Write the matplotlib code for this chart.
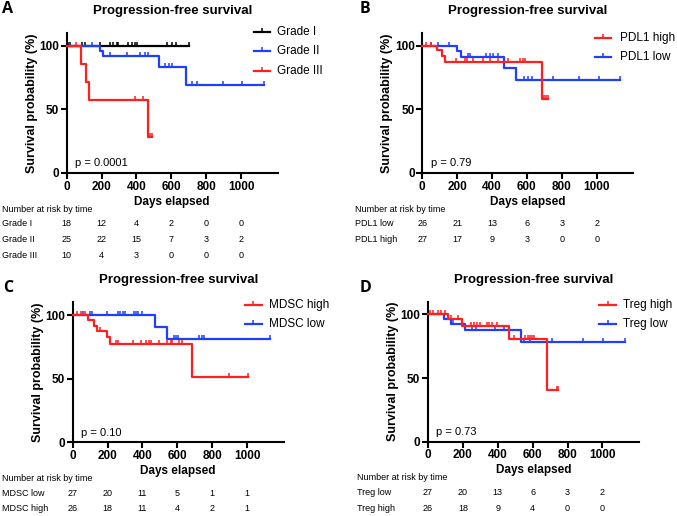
import numpy as np
import matplotlib.pyplot as plt
from matplotlib.lines import Line2D

plt.rcParams['font.family'] = ['Liberation Sans', 'DejaVu Sans']

RED = '#ff1f1f'
BLUE = '#1f3fff'
BLACK = '#000000'

# ---- data (days, survival %) ----
# panel A
grade1_events, grade1_surv, grade1_end = [], [], 699
grade1_cens = [10, 19, 86, 105, 191, 249, 268, 287, 297, 354, 374, 393, 402, 575, 603, 625, 699]
grade2_events = [191, 211, 532, 684]
grade2_surv = [95.8, 91.7, 83.3, 69.4]
grade2_end = 1130
grade2_cens = [144, 249, 345, 421, 451, 469, 565, 584, 603, 718, 747, 894, 1006, 1130]
grade3_events = [82, 113, 130, 469]
grade3_surv = [85.7, 71.4, 57.1, 28.6]
grade3_end = 488
grade3_cens = [53, 393, 437, 480, 488]

# panel B
pdl1_high_events = [86, 111, 128, 685]
pdl1_high_surv = [96.3, 92.3, 87.2, 58.1]
pdl1_high_end = 722
pdl1_high_cens = [23, 52, 195, 243, 258, 290, 347, 391, 433, 491, 558, 577, 590, 700, 710, 722]
pdl1_low_events = [200, 220, 468, 535]
pdl1_low_surv = [95.5, 90.9, 82.6, 73.4]
pdl1_low_end = 1133
pdl1_low_cens = [52, 90, 151, 262, 271, 366, 386, 405, 433, 582, 605, 630, 752, 897, 1011, 1133]

# panel C
mdsc_high_events = [89, 121, 137, 199, 216, 683]
mdsc_high_surv = [96.0, 91.5, 87.3, 82.6, 77.5, 51.7]
mdsc_high_end = 1006
mdsc_high_cens = [26, 49, 68, 154, 248, 258, 343, 391, 419, 439, 448, 495, 543, 562, 571, 609, 628, 894, 1006]
mdsc_low_events = [470, 539]
mdsc_low_surv = [90.9, 80.8]
mdsc_low_end = 1131
mdsc_low_cens = [59, 97, 110, 197, 262, 273, 287, 300, 349, 362, 376, 400, 581, 590, 604, 723, 742, 752, 1131]

# panel D
treg_high_events = [114, 194, 467, 682]
treg_high_surv = [96.2, 90.9, 80.8, 40.4]
treg_high_end = 747
treg_high_cens = [10, 29, 57, 76, 95, 133, 171, 244, 263, 282, 301, 339, 349, 367, 398, 491, 558,
                  571, 583, 596, 606, 740, 747]
treg_low_events = [91, 133, 210, 535]
treg_low_surv = [96.3, 92.6, 87.5, 78.7]
treg_low_end = 1130
treg_low_cens = [145, 253, 273, 387, 434, 549, 587, 710, 891, 1005, 1130]

risk_days = [0, 200, 400, 600, 800, 1000]
risk_A = {'Grade I': [18, 12, 4, 2, 0, 0], 'Grade II': [25, 22, 15, 7, 3, 2], 'Grade III': [10, 4, 3, 0, 0, 0]}
risk_B = {'PDL1 low': [26, 21, 13, 6, 3, 2], 'PDL1 high': [27, 17, 9, 3, 0, 0]}
risk_C = {'MDSC low': [27, 20, 11, 5, 1, 1], 'MDSC high': [26, 18, 11, 4, 2, 1]}
risk_D = {'Treg low': [27, 20, 13, 6, 3, 2], 'Treg high': [26, 18, 9, 4, 0, 0]}

W, H = 677, 516
fig = plt.figure(figsize=(W / 100, H / 100), dpi=100)


def fx(px):
    return px / W


def fy(py):
    return 1 - py / H


TICK = [(0, 0), (0, 1)]


def km(ax, events, surv, end, cens, color):
    x = [0] + events + [end]
    y = [100] + surv + [surv[-1] if surv else 100]
    ax.step(x, y, where='post', color=color, lw=1.6, clip_on=False, zorder=3)
    vals = np.array([100] + surv)
    idx = np.searchsorted(events, cens, side='right')
    ax.plot(cens, vals[idx], ls='none', marker=TICK, ms=6, mew=1.1, color=color,
            clip_on=False, zorder=3)


def panel(left, bottom, letter, letter_xy, pval, curves, legend, risk, risk_x):
    ax = fig.add_axes([fx(left), fy(bottom), 211 / W, 140 / H])
    for c in curves:
        km(ax, *c)
    ax.set_xlim(0, 1210)
    ax.set_ylim(0, 110)
    ax.set_xticks(risk_days)
    ax.set_yticks([0, 50, 100])
    for s in ['top', 'right']:
        ax.spines[s].set_visible(False)
    for s in ['left', 'bottom']:
        ax.spines[s].set_linewidth(1.5)
    ax.tick_params(width=1.5, length=4, labelsize=8.5, pad=1.5)
    for lbl in ax.get_xticklabels() + ax.get_yticklabels():
        lbl.set_fontweight('bold')
    ax.set_xlabel('Days elapsed', fontsize=8.5, fontweight='bold', va='center')
    ax.xaxis.set_label_coords(0.5, -28.7 / 140)
    ax.set_ylabel('Survival probability (%)', fontsize=9, fontweight='bold', va='center')
    ax.yaxis.set_label_coords(-35 / 211, 0.5)
    ax.text(0.5, 1 + 22 / 140, 'Progression-free survival', transform=ax.transAxes,
            ha='center', va='center', fontsize=9.5, fontweight='bold')
    ax.text(48, 7.5, pval, fontsize=8, va='center')
    fig.text(fx(letter_xy[0]), fy(letter_xy[1]), letter, fontsize=11.5, fontweight='bold',
             family='Open Sans', ha='center', va='center')

    # legend
    lx0, lx1, tx, rows = legend
    for (label, color), ry in zip([(c[0], c[1]) for c in legend_items[letter]], rows):
        fig.add_artist(Line2D([fx(lx0), fx(lx1)], [fy(ry), fy(ry)], color=color, lw=1.6))
        fig.add_artist(Line2D([fx((lx0 + lx1) / 2)], [fy(ry)], marker=TICK, ms=6, mew=1.1,
                              color=color, ls='none'))
        fig.text(fx(tx), fy(ry), label, fontsize=8.5, va='center')

    # number at risk
    fig.text(fx(risk_x), fy(bottom + 36), 'Number at risk by time', fontsize=6.5, va='center')
    for i, (name, nums) in enumerate(risk.items()):
        off = 50.7 + 15.8 * i
        fig.text(fx(risk_x), fy(bottom + off), name, fontsize=6.5, va='center')
        for d, n in zip(risk_days, nums):
            ax.annotate(str(n), xy=(d, 0), xycoords=('data', 'axes fraction'),
                        xytext=(0, -off * 0.72), textcoords='offset points',
                        ha='center', va='center', fontsize=6.5)
    return ax


legend_items = {
    'A': [('Grade I', BLACK), ('Grade II', BLUE), ('Grade III', RED)],
    'B': [('PDL1 high', RED), ('PDL1 low', BLUE)],
    'C': [('MDSC high', RED), ('MDSC low', BLUE)],
    'D': [('Treg high', RED), ('Treg low', BLUE)],
}

panel(66.7, 173, 'A', (8, 9), 'p = 0.0001',
      [(grade1_events, grade1_surv, grade1_end, grade1_cens, BLACK),
       (grade2_events, grade2_surv, grade2_end, grade2_cens, BLUE),
       (grade3_events, grade3_surv, grade3_end, grade3_cens, RED)],
      (254, 270, 277, [32.3, 51, 70.7]), risk_A, 2)

panel(422.3, 173, 'B', (365, 9), 'p = 0.79',
      [(pdl1_low_events, pdl1_low_surv, pdl1_low_end, pdl1_low_cens, BLUE),
       (pdl1_high_events, pdl1_high_surv, pdl1_high_end, pdl1_high_cens, RED)],
      (594.7, 610.7, 619.7, [38.3, 57.3]), risk_B, 355.3)

panel(72.7, 442.3, 'C', (8.3, 288), 'p = 0.10',
      [(mdsc_low_events, mdsc_low_surv, mdsc_low_end, mdsc_low_cens, BLUE),
       (mdsc_high_events, mdsc_high_surv, mdsc_high_end, mdsc_high_cens, RED)],
      (245, 261.7, 269.3, [304.7, 324]), risk_C, 2)

panel(428, 441.7, 'D', (365.7, 287.5), 'p = 0.73',
      [(treg_low_events, treg_low_surv, treg_low_end, treg_low_cens, BLUE),
       (treg_high_events, treg_high_surv, treg_high_end, treg_high_cens, RED)],
      (598.7, 616.3, 623, [304.7, 324]), risk_D, 357.3)

fig.savefig('out.png', dpi=100)
